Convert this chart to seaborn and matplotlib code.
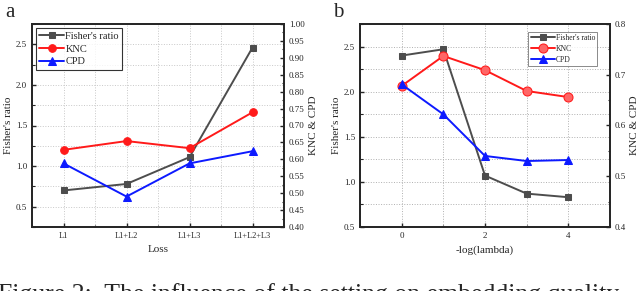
import matplotlib
matplotlib.use("Agg")
import matplotlib.pyplot as plt
import pandas as pd
import seaborn as sns
from matplotlib.ticker import MultipleLocator

# panel a: loss combinations
loss_labels = ["L1", "L1+L2", "L1+L3", "L1+L2+L3"]
fisher_a = [0.70, 0.78, 1.11, 2.46]
knc_a = [0.628, 0.654, 0.633, 0.739]
cpd_a = [0.588, 0.490, 0.588, 0.624]

# panel b: -log(lambda)
neglog_lambda = [0, 1, 2, 3, 4]
fisher_b = [2.40, 2.47, 1.07, 0.87, 0.83]
knc_b = [0.678, 0.737, 0.709, 0.668, 0.656]
cpd_b = [0.681, 0.622, 0.540, 0.530, 0.532]

sns.set_style("ticks")
plt.rcParams['font.family'] = ['Liberation Serif', 'DejaVu Serif']

GRAY = "#4d4d4d"
RED = "#ff1a1a"
BLUE = "#0d1aff"

fig = plt.figure(figsize=(6.4, 2.91), dpi=100)
ax_a = fig.add_axes([32/640, 1-227/291, 252/640, 203/291])
ax_b = fig.add_axes([360/640, 1-227/291, 250/640, 203/291])


def style_axis(ax, size=6.5):
    for s in ax.spines.values():
        s.set_linewidth(1.3)
    ax.tick_params(labelsize=size, direction="in", width=1.0, length=3)
    ax.tick_params(which="minor", direction="in", width=0.8, length=1.8)


# ---------------- panel a ----------------
df_a = pd.DataFrame({"loss": loss_labels, "fisher": fisher_a, "knc": knc_a, "cpd": cpd_a})
sns.lineplot(data=df_a, x="loss", y="fisher", ax=ax_a, color=GRAY, marker="s",
             markersize=5, markeredgecolor=GRAY, linewidth=1.4, label="Fisher's ratio", legend=False)
ax_a2 = ax_a.twinx()
sns.lineplot(data=df_a, x="loss", y="knc", ax=ax_a2, color=RED, marker="o",
             markersize=5.5, markeredgecolor=RED, linewidth=1.4, label="KNC", legend=False)
sns.lineplot(data=df_a, x="loss", y="cpd", ax=ax_a2, color=BLUE, marker="^",
             markersize=5.5, markeredgecolor=BLUE, linewidth=1.4, label="CPD", legend=False)
ax_a.set_xlim(-0.5, 3.5)
ax_a.set_ylim(0.25, 2.75)
ax_a2.set_ylim(0.40, 1.00)
ax_a.yaxis.set_major_locator(MultipleLocator(0.5))
ax_a.yaxis.set_minor_locator(MultipleLocator(0.25))
ax_a.xaxis.set_minor_locator(MultipleLocator(0.5))
ax_a2.yaxis.set_major_locator(MultipleLocator(0.05))
ax_a2.yaxis.set_minor_locator(MultipleLocator(0.025))
ax_a2.yaxis.set_major_formatter(plt.FuncFormatter(lambda v, p: f"{v:.2f}"))
ax_a.grid(True, which="both", linestyle=":", color="#c8c8c8", linewidth=0.7)
ax_a.set_xlabel("Loss", fontsize=8, labelpad=4)
ax_a.set_ylabel("Fisher's ratio", fontsize=8, labelpad=2)
ax_a2.set_ylabel("KNC & CPD", fontsize=8, labelpad=3)
style_axis(ax_a)
style_axis(ax_a2)
ax_a.tick_params(axis="x", labelsize=6)
h1, l1 = ax_a.get_legend_handles_labels()
h2, l2 = ax_a2.get_legend_handles_labels()
leg = ax_a2.legend(h1 + h2, l1 + l2, loc="upper left", fontsize=7.5, frameon=True,
                   fancybox=False, edgecolor="black", handlelength=2.4,
                   borderpad=0.3, labelspacing=0.35, handletextpad=0.1,
                   borderaxespad=0.4)
leg.get_frame().set_linewidth(0.8)

# ---------------- panel b ----------------
df_b = pd.DataFrame({"lam": neglog_lambda, "fisher": fisher_b, "knc": knc_b, "cpd": cpd_b})
sns.lineplot(data=df_b, x="lam", y="fisher", ax=ax_b, color=GRAY, marker="s",
             markersize=5, markeredgecolor=GRAY, linewidth=1.4, label="Fisher's ratio", legend=False)
ax_b2 = ax_b.twinx()
sns.lineplot(data=df_b, x="lam", y="knc", ax=ax_b2, color=RED, marker="o",
             markersize=6.5, markeredgecolor=RED, markerfacecolor="#ff6666",
             linewidth=1.4, label="KNC", legend=False)
sns.lineplot(data=df_b, x="lam", y="cpd", ax=ax_b2, color=BLUE, marker="^",
             markersize=5.5, markeredgecolor=BLUE, linewidth=1.4, label="CPD", legend=False)
ax_b.set_xlim(-1, 5)
ax_b.set_ylim(0.5, 2.75)
ax_b2.set_ylim(0.4, 0.8)
ax_b.xaxis.set_major_locator(MultipleLocator(2))
ax_b.xaxis.set_minor_locator(MultipleLocator(1))
ax_b.yaxis.set_major_locator(MultipleLocator(0.5))
ax_b.yaxis.set_minor_locator(MultipleLocator(0.25))
ax_b2.yaxis.set_major_locator(MultipleLocator(0.1))
ax_b2.yaxis.set_minor_locator(MultipleLocator(0.05))
ax_b2.yaxis.set_major_formatter(plt.FuncFormatter(lambda v, p: f"{v:.1f}"))
ax_b.grid(True, which="both", linestyle=":", color="#b0b0b0", linewidth=0.7)
ax_b.set_xlabel("-log(lambda)", fontsize=8, labelpad=4)
ax_b.set_ylabel("Fisher's ratio", fontsize=8, labelpad=2)
ax_b2.set_ylabel("KNC & CPD", fontsize=8, labelpad=3)
style_axis(ax_b)
style_axis(ax_b2)
h1, l1 = ax_b.get_legend_handles_labels()
h2, l2 = ax_b2.get_legend_handles_labels()
leg = ax_b2.legend(h1 + h2, l1 + l2, loc="upper right", fontsize=5.5, frameon=True,
                   fancybox=False, edgecolor="#555555", handlelength=3.2,
                   borderpad=0.3, labelspacing=0.35, handletextpad=0.1,
                   bbox_to_anchor=(0.965, 0.98))
leg.get_frame().set_linewidth(0.6)

# panel letters and the caption, which the reference crops at its lower edge
fig.text(5/640, 1-3/291, "a", fontsize=15, va="top", ha="left")
fig.text(333/640, 1-3/291, "b", fontsize=15, va="top", ha="left")
fig.text(-2/640, 1-283/291, "Figure 2:  The influence of the setting on embedding quality",
         fontsize=18.5, va="top", ha="left")

plt.savefig("out.png", dpi=100)
